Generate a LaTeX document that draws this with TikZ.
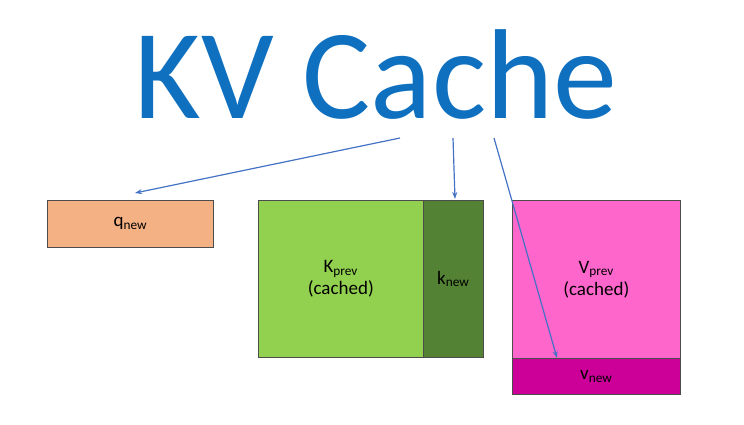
\documentclass[tikz,border=0pt]{standalone}
\usepackage{fontspec}
\setmainfont{Carlito}
\usetikzlibrary{arrows.meta}
\definecolor{tblue}{HTML}{0F70BF}
\definecolor{ablue}{HTML}{4472C4}
\definecolor{qcol}{HTML}{F4B183}
\definecolor{kcol}{HTML}{92D050}
\definecolor{kncol}{HTML}{548235}
\definecolor{vcol}{HTML}{FF66CC}
\definecolor{vncol}{HTML}{CC0099}
\tikzset{cell/.style={draw=black!70,line width=0.6pt,inner sep=0pt,anchor=north west,font=\fontsize{19}{22}\selectfont,align=center},
arr/.style={ablue,line width=1.2pt,-{Stealth[length=7pt,width=5pt]}}}
\begin{document}
\begin{tikzpicture}[x=1pt,y=-1pt]
\useasboundingbox (0,0) rectangle (744,424);
\node[tblue,font=\fontsize{128}{140}\selectfont,anchor=base] (title) at (376,118) {KV Cache};
\node[cell,fill=qcol,minimum width=166pt,minimum height=47pt] (q) at (47,200) {q\textsubscript{new}};
\node[cell,fill=kcol,minimum width=165pt,minimum height=157pt] (k) at (258,200) {K\textsubscript{prev}\\(cached)};
\node[cell,fill=kncol,minimum width=60pt,minimum height=157pt] (kn) at (423,200) {k\textsubscript{new}};
\node[cell,fill=vcol,minimum width=168pt,minimum height=158pt] (v) at (512,200) {V\textsubscript{prev}\\(cached)};
\node[cell,fill=vncol,minimum width=168pt,minimum height=36pt] (vn) at (512,358) {v\textsubscript{new}};
\coordinate (a1) at (400,138);
\coordinate (a2) at (453,138);
\coordinate (a3) at (494,138);
\coordinate (t1) at (135,193);
\coordinate (t2) at (455,199);
\coordinate (t3) at (557,358);
\draw[arr] (a1) -- (t1);
\draw[arr] (a2) -- (t2);
\draw[arr] (a3) -- (t3);
\end{tikzpicture}
\end{document}
